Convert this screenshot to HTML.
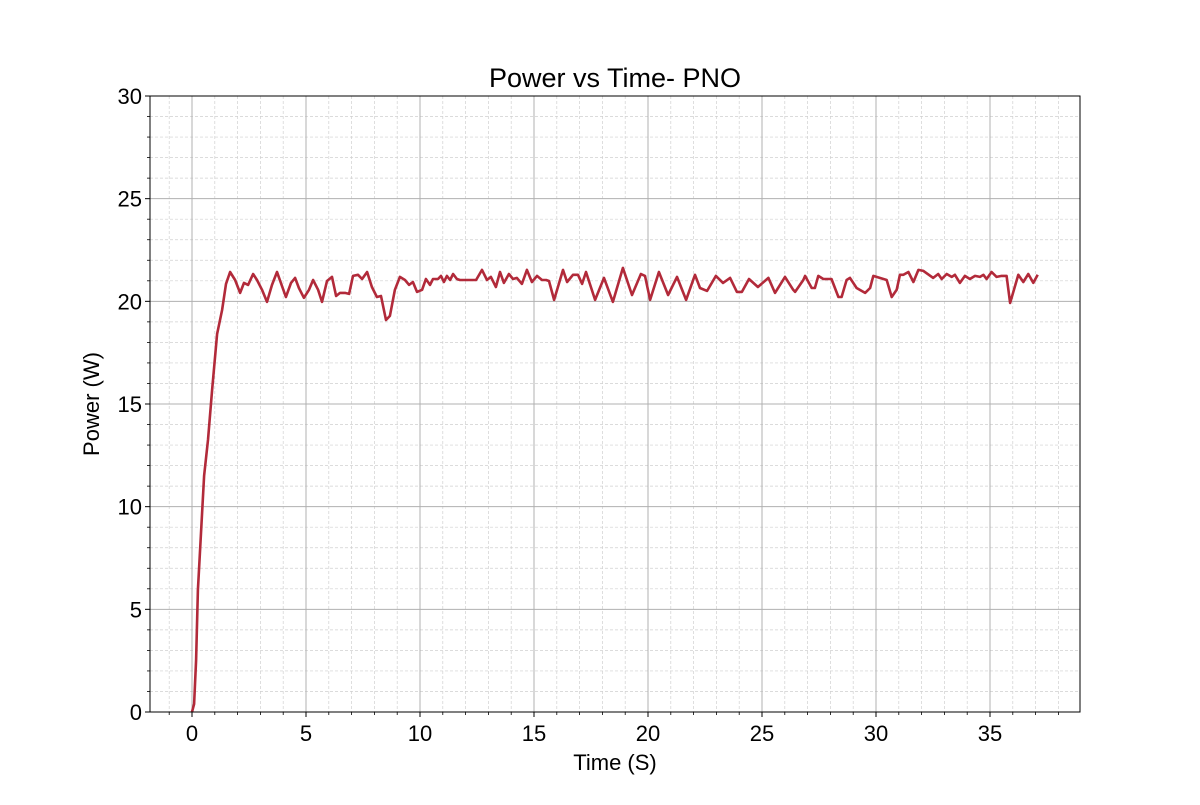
<!DOCTYPE html>
<html><head><meta charset="utf-8"><style>
body{margin:0;background:#fff;}
svg text{font-family:"Liberation Sans",sans-serif;fill:#000;}
</style></head><body>
<svg id="chart" width="1200" height="800" viewBox="0 0 1200 800" xmlns="http://www.w3.org/2000/svg">
<rect width="1200" height="800" fill="#fff"/>
<g id="grid"></g>
<g id="series"></g>
<rect x="150" y="96" width="930" height="616" fill="none" stroke="#000" stroke-width="1"/>
<g id="axes"></g>
<text x="615" y="87" font-size="27" text-anchor="middle">Power vs Time- PNO</text>
<text x="615" y="770" font-size="22" text-anchor="middle">Time (S)</text>
<text transform="translate(99,404) rotate(-90)" font-size="22" text-anchor="middle">Power (W)</text>
</svg>
<script>
const times=[0,0.09,0.18,0.26,0.53,0.70,0.88,1.10,1.32,1.49,1.67,1.89,2.11,2.28,2.46,2.68,2.85,3.07,3.29,3.51,3.73,3.90,4.12,4.34,4.52,4.69,4.91,5.13,5.31,5.53,5.70,5.92,6.14,6.32,6.49,6.71,6.89,7.06,7.28,7.46,7.68,7.89,8.11,8.29,8.51,8.68,8.90,9.12,9.34,9.52,9.69,9.87,10.09,10.26,10.44,10.57,10.79,10.92,11.05,11.18,11.32,11.45,11.62,11.75,12.19,12.46,12.72,12.94,13.11,13.33,13.51,13.68,13.90,14.08,14.25,14.47,14.69,14.91,15.13,15.35,15.53,15.66,15.88,16.27,16.45,16.71,16.93,17.11,17.28,17.68,18.07,18.46,18.90,19.30,19.69,19.87,20.09,20.48,20.88,21.27,21.67,22.06,22.28,22.59,22.98,23.29,23.60,23.90,24.12,24.43,24.82,25.28,25.57,26.01,26.37,26.45,26.81,26.89,27.18,27.32,27.47,27.69,28.05,28.35,28.49,28.71,28.86,29.15,29.52,29.74,29.88,30.47,30.69,30.91,31.05,31.20,31.42,31.64,31.86,32.08,32.51,32.73,32.88,33.10,33.32,33.46,33.68,33.90,34.12,34.34,34.56,34.71,34.85,35.07,35.29,35.51,35.73,35.88,36.24,36.46,36.68,36.90,37.09];
const power=[0,0.39,2.53,5.94,11.50,13.25,15.68,18.41,19.58,20.85,21.43,21.04,20.41,20.90,20.80,21.33,21.04,20.56,19.97,20.80,21.43,20.90,20.21,20.90,21.14,20.65,20.17,20.56,21.04,20.56,19.97,20.99,21.19,20.26,20.41,20.41,20.36,21.24,21.29,21.09,21.43,20.70,20.21,20.26,19.09,19.29,20.56,21.19,21.04,20.80,20.94,20.46,20.56,21.09,20.80,21.09,21.09,21.24,20.94,21.24,21.04,21.33,21.09,21.04,21.04,21.04,21.53,21.04,21.19,20.70,21.43,20.90,21.33,21.09,21.14,20.85,21.53,20.94,21.24,21.04,21.04,20.99,20.07,21.53,20.94,21.29,21.29,20.85,21.43,20.07,21.14,19.97,21.63,20.31,21.33,21.24,20.07,21.43,20.31,21.19,20.07,21.29,20.65,20.51,21.24,20.90,21.14,20.46,20.46,21.09,20.70,21.14,20.41,21.19,20.56,20.46,21.04,21.24,20.65,20.65,21.24,21.09,21.09,20.21,20.21,21.04,21.14,20.65,20.41,20.65,21.24,21.04,20.21,20.56,21.29,21.29,21.43,20.94,21.53,21.48,21.14,21.33,21.09,21.33,21.19,21.29,20.90,21.24,21.09,21.24,21.19,21.29,21.09,21.43,21.19,21.24,21.24,19.92,21.29,20.94,21.33,20.90,21.29];
const xTicks=[0,5,10,15,20,25,30,35];
const yTicks=[0,5,10,15,20,25,30];
const X0=150,X1=1080,Y0=96,Y1=712;
const xs=t=>192+t*22.8;
const ys=p=>Y1-(p/30)*(Y1-Y0);
const NS="http://www.w3.org/2000/svg";
const grid=document.getElementById('grid'),axes=document.getElementById('axes'),ser=document.getElementById('series');
function mk(tag,attrs,parent){const e=document.createElementNS(NS,tag);for(const k in attrs)e.setAttribute(k,attrs[k]);parent.appendChild(e);return e;}
for(let t=-1;t<=38;t++){if(t%5===0)continue;const x=xs(t);if(x<X0||x>X1)continue;
const l=mk('line',{x1:x,x2:x,y1:Y0,y2:Y1,stroke:'#d0d0d0','stroke-width':0.7,'stroke-dasharray':'3,2'},grid);


mk('line',{x1:x,x2:x,y1:Y1,y2:Y1+3,stroke:'#000','stroke-width':0.8},axes);}
for(let p=0;p<=30;p++){if(p%5===0)continue;const y=ys(p);
const l=mk('line',{x1:X0,x2:X1,y1:y,y2:y,stroke:'#d0d0d0','stroke-width':0.7,'stroke-dasharray':'3,2'},grid);


mk('line',{x1:X0-3,x2:X0,y1:y,y2:y,stroke:'#000','stroke-width':0.8},axes);}
xTicks.forEach(t=>{const x=xs(t);
const l=mk('line',{x1:x,x2:x,y1:Y0,y2:Y1,stroke:'#b0b0b0','stroke-width':1},grid);


mk('line',{x1:x,x2:x,y1:Y1,y2:Y1+5,stroke:'#000','stroke-width':1},axes);
const tx=mk('text',{x:x,y:741,'font-size':22,'text-anchor':'middle'},axes);tx.textContent=t;

});
yTicks.forEach(p=>{const y=ys(p);
const l=mk('line',{x1:X0,x2:X1,y1:y,y2:y,stroke:'#b0b0b0','stroke-width':1},grid);


mk('line',{x1:X0-5,x2:X0,y1:y,y2:y,stroke:'#000','stroke-width':1},axes);
const tx=mk('text',{x:X0-8,y:y+8,'font-size':22,'text-anchor':'end'},axes);tx.textContent=p;

});
const d=times.map((t,i)=>(i?'L':'M')+xs(t).toFixed(1)+','+ys(power[i]).toFixed(1)).join('');
const path=mk('path',{d:d,fill:'none',stroke:'#b22a3a','stroke-width':2.6,'stroke-linejoin':'round'},ser);


</script>
</body></html>
